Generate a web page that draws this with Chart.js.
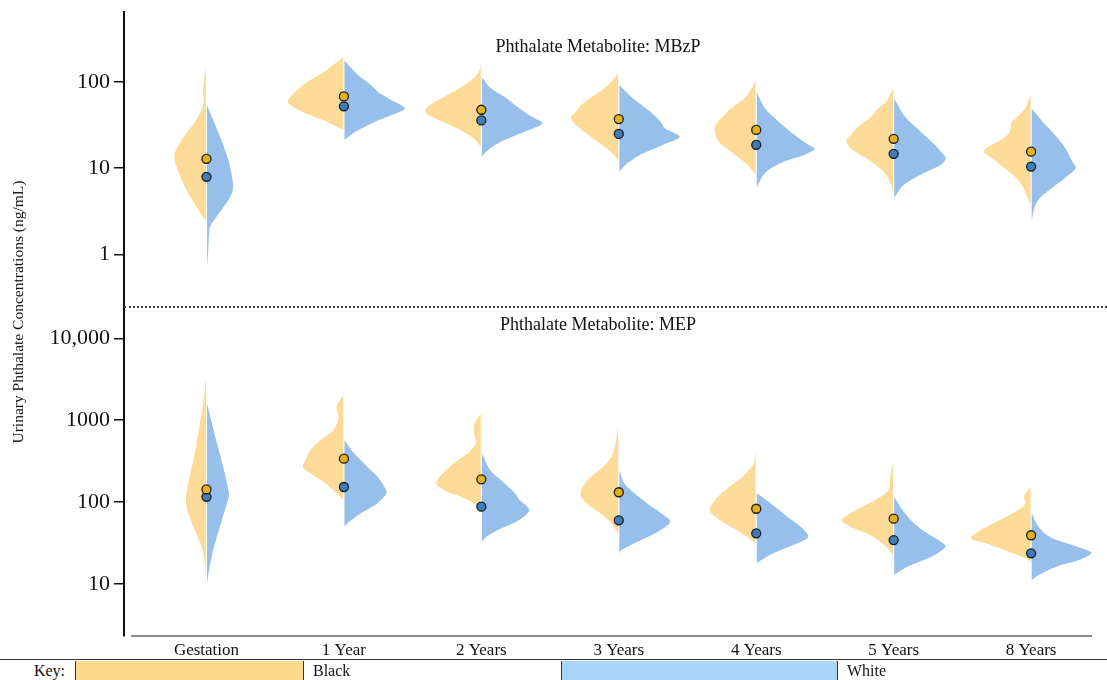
<!DOCTYPE html>
<html>
<head>
<meta charset="utf-8">
<script src="https://cdn.jsdelivr.net/npm/chart.js@4.4.1/dist/chart.umd.min.js"></script>
<style>
  body { margin: 0; background: #fff; }
  #page { position: relative; width: 1107px; height: 680px; overflow: hidden; font-family: "Liberation Serif", serif; color: #111; }
  canvas, .abs { position: absolute; }
  .ptitle { left: 398px; width: 400px; text-align: center; font-size: 18px; line-height: 20px; }
  .key { top: 661px; height: 19px; line-height: 19px; font-size: 16px; }
  .box { border-left: 1px solid #333; border-right: 1px solid #333; }
</style>
</head>
<body>
<div id="page">
  <canvas id="topChart" width="1107" height="312" style="left:0;top:0"></canvas>
  <canvas id="bottomChart" width="1107" height="360" style="left:0;top:300px"></canvas>

  <div class="abs ptitle" style="top:36px">Phthalate Metabolite: MBzP</div>
  <div class="abs ptitle" style="top:314px">Phthalate Metabolite: MEP</div>
  <div class="abs" style="left:-182px;top:302px;width:400px;height:20px;line-height:20px;text-align:center;font-size:15.5px;transform:rotate(-90deg)">Urinary Phthalate Concentrations (ng/mL)</div>

  <div class="abs" style="left:124px;top:306px;width:983px;border-top:2px dotted #444"></div>
  <div class="abs" style="left:131px;top:635px;width:961px;height:2px;background:#8c8c8c"></div>

  <div class="abs" style="left:0;top:659px;width:1107px;height:1px;background:#333"></div>
  <div class="abs key" style="left:0;width:65px;text-align:right">Key:</div>
  <div class="abs key box" style="left:75px;width:227px;background:#fed98b"></div>
  <div class="abs key" style="left:313px">Black</div>
  <div class="abs key box" style="left:561px;width:275px;background:#a9d5fa"></div>
  <div class="abs key" style="left:847px">White</div>
</div>

<script>
const categories = ['Gestation', '1 Year', '2 Years', '3 Years', '4 Years', '5 Years', '8 Years'];

// point estimates (dots)
const mbzpBlackMean = [12.8, 67.7, 47.4, 37, 27.7, 21.8, 15.5];
const mbzpWhiteMean = [7.9, 52, 35.7, 24.9, 18.6, 14.6, 10.4];
const mepBlackMean = [143, 339, 190, 132, 83, 62.7, 39.4];
const mepWhiteMean = [116, 153, 88, 60, 41.6, 34.4, 23.7];

// violin outlines: [concentration, half width in category units]
const mbzpBlackDensity = [
  [[149,0],[84,0.02],[54,0.02],[34.5,0.08],[22,0.17],[14,0.23],[9.1,0.2],[5.9,0.15],[3.8,0.08],[2.4,0]],
  [[194,0],[130,0.14],[100,0.26],[76,0.35],[59,0.405],[49,0.35],[41,0.24],[34.5,0.12],[27.7,0]],
  [[155,0],[119,0.03],[91,0.12],[70,0.245],[54,0.37],[45,0.405],[38,0.34],[29,0.175],[22,0.05],[17.7,0]],
  [[125,0],[84,0.10],[59,0.24],[45,0.31],[38,0.345],[29,0.28],[20.3,0.15],[14.2,0.03],[11.9,0]],
  [[104,0],[70,0.06],[49,0.18],[34.5,0.275],[29,0.30],[20.3,0.27],[15.5,0.18],[10.9,0.06],[8.4,0]],
  [[84,0],[59,0.05],[47,0.12],[39,0.16],[31.6,0.24],[24.2,0.31],[21.2,0.34],[17,0.31],[13,0.195],[9.1,0.07],[6.4,0.015],[4.9,0]],
  [[70,0],[49,0.04],[40,0.09],[34,0.14],[29,0.145],[25,0.16],[21,0.22],[17.5,0.31],[15.5,0.34],[13,0.28],[10,0.19],[7,0.08],[4.9,0.03],[3.8,0]]
];
const mbzpWhiteDensity = [
  [[54,0],[34.5,0.05],[22,0.10],[14,0.145],[9.1,0.175],[5.9,0.19],[4.5,0.165],[3.2,0.1],[2.4,0.045],[2.05,0.02],[1.2,0.01],[0.71,0]],
  [[177,0],[119,0.10],[91,0.195],[76,0.245],[64,0.32],[49,0.44],[41,0.34],[34.5,0.225],[26.4,0.08],[21.2,0]],
  [[114,0],[84,0.065],[67,0.165],[54,0.24],[41,0.345],[33,0.44],[26.4,0.31],[20.3,0.14],[15.5,0.03],[13.6,0]],
  [[91,0],[64,0.10],[45,0.225],[34.5,0.30],[29,0.33],[23,0.44],[18.6,0.32],[14.2,0.15],[10.9,0.045],[9.1,0]],
  [[76,0],[49,0.06],[34.5,0.16],[24.2,0.275],[18.6,0.375],[16.6,0.42],[14.2,0.345],[11.9,0.2],[9.1,0.07],[7.0,0.02],[5.9,0]],
  [[64,0],[41,0.07],[29,0.165],[20.3,0.27],[15.5,0.34],[13,0.375],[10.9,0.34],[8.4,0.195],[6.4,0.07],[4.9,0.015],[4.5,0]],
  [[49,0],[34.5,0.08],[24.2,0.17],[17,0.245],[11.9,0.295],[10,0.32],[7.7,0.245],[5.9,0.15],[4.5,0.06],[3.5,0.02],[2.4,0]]
];
const mepBlackDensity = [
  [[3400,0],[1600,0.02],[630,0.06],[300,0.095],[170,0.13],[97,0.145],[60,0.11],[38,0.06],[24,0.02],[11.2,0]],
  [[2030,0],[1460,0.05],[1100,0.035],[760,0.07],[573,0.165],[433,0.24],[327,0.275],[271,0.295],[225,0.24],[170,0.13],[128,0.05],[106,0]],
  [[1210,0],[916,0.045],[692,0.05],[522,0.035],[394,0.095],[298,0.195],[225,0.275],[170,0.325],[141,0.27],[116,0.145],[97,0.05],[80,0]],
  [[833,0],[522,0.02],[358,0.05],[271,0.11],[204,0.2],[154,0.26],[122,0.275],[97,0.23],[73,0.13],[55,0.05],[41.6,0]],
  [[475,0],[298,0.015],[204,0.095],[154,0.19],[116,0.275],[80,0.335],[60,0.26],[45.6,0.14],[34.4,0.03],[31.4,0]],
  [[311,0],[204,0.02],[141,0.035],[106,0.13],[80,0.27],[60,0.375],[50,0.31],[37.8,0.145],[28.5,0.05],[22.6,0]],
  [[154,0],[116,0.05],[97,0.035],[73,0.13],[55,0.275],[41.6,0.40],[36,0.435],[31.4,0.325],[24.8,0.16],[20.6,0.035],[18.7,0]]
];
const mepWhiteDensity = [
  [[1600,0],[630,0.06],[300,0.11],[170,0.145],[122,0.16],[80,0.13],[46,0.087],[26,0.045],[14.8,0.015],[10.2,0]],
  [[573,0],[394,0.07],[271,0.165],[204,0.24],[154,0.29],[128,0.305],[97,0.24],[73,0.12],[55,0.02],[50,0]],
  [[394,0],[247,0.06],[170,0.165],[128,0.24],[106,0.275],[80,0.345],[60,0.27],[46,0.12],[38,0.035],[33,0]],
  [[247,0],[170,0.035],[128,0.11],[97,0.2],[73,0.305],[58,0.37],[46,0.305],[34.4,0.16],[26,0.015],[23.7,0]],
  [[128,0],[97,0.10],[66,0.225],[50,0.32],[37.8,0.375],[31.4,0.295],[23.7,0.12],[18.7,0.015],[17.9,0]],
  [[116,0],[80,0.06],[55,0.145],[41.6,0.24],[32.8,0.34],[28.5,0.375],[21.5,0.27],[16.3,0.095],[13.5,0.015],[12.9,0]],
  [[73,0],[50,0.05],[37.8,0.13],[31.4,0.255],[26,0.40],[23.7,0.435],[19.6,0.345],[16.3,0.18],[12.9,0.05],[11.2,0]]
];

const mbzpTicks = [1, 10, 100];
const mbzpTickLabels = ['1', '10', '100'];
const mepTicks = [10, 100, 1000, 10000];
const mepTickLabels = ['10', '100', '1000', '10,000'];

const yellowFill = '#fcda98';
const blueFill = '#97bfec';
const yellowDot = '#e2b21e';
const blueDot = '#3d7db9';

Chart.defaults.font.family = '"Liberation Serif", serif';
Chart.defaults.color = '#111';

let violin = (profile, i, side, color) => ({
  type: 'line',
  data: profile.map(p => ({ x: i + side * (p[1] + 0.004), y: p[0] })),
  fill: 'shape',
  backgroundColor: color,
  borderColor: 'rgba(0,0,0,0)',
  borderWidth: 0,
  pointRadius: 0,
  tension: 0.3,
  order: 1
});

let dots = (values, color) => ({
  type: 'scatter',
  data: values.map((v, i) => ({ x: i, y: v })),
  backgroundColor: color,
  borderColor: '#1a1a1a',
  borderWidth: 1.3,
  pointRadius: 4.5,
  order: 0
});

let makePanel = (canvasId, black, white, blackMean, whiteMean, yMin, yMax, ticks, tickLabels, showX, padding) => {
  let datasets = [];
  categories.forEach((c, i) => {
    datasets.push(violin(black[i], i, -1, yellowFill));
    datasets.push(violin(white[i], i, 1, blueFill));
  });
  datasets.push(dots(blackMean, yellowDot));
  datasets.push(dots(whiteMean, blueDot));

  return new Chart(document.getElementById(canvasId), {
    type: 'scatter',
    data: { datasets: datasets },
    options: {
      responsive: false,
      animation: false,
      layout: { padding: padding },
      plugins: { legend: { display: false }, tooltip: { enabled: false } },
      scales: {
        x: {
          type: 'linear',
          min: -0.6,
          max: 6.51,
          display: showX,
          grid: { display: false, drawTicks: false },
          border: { display: false },
          ticks: { padding: 4, font: { size: 17 }, maxRotation: 0, callback: v => categories[v] },
          afterBuildTicks: s => { s.ticks = categories.map((c, i) => ({ value: i })); },
          afterFit: s => {
            s.height = showX ? 24 : 0;
            s.paddingLeft = 0;
            s.paddingRight = 0;
          }
        },
        y: {
          type: 'logarithmic',
          min: yMin,
          max: yMax,
          grid: { drawOnChartArea: false, drawTicks: true, tickLength: 10, color: '#111', lineWidth: 1.5 },
          border: { display: true, color: '#111', width: 2 },
          ticks: {
            padding: 4,
            font: { size: 22 },
            callback: v => tickLabels[ticks.indexOf(v)]
          },
          afterBuildTicks: s => { s.ticks = ticks.map(v => ({ value: v })); },
          afterFit: s => {
            s.width = 124;
            s.paddingTop = 0;
            s.paddingBottom = 0;
          }
        }
      }
    }
  });
};

makePanel('topChart', mbzpBlackDensity, mbzpWhiteDensity, mbzpBlackMean, mbzpWhiteMean,
  0.25, 645, mbzpTicks, mbzpTickLabels, false, { top: 12, bottom: 5, left: 0, right: 0 });
makePanel('bottomChart', mepBlackDensity, mepWhiteDensity, mepBlackMean, mepWhiteMean,
  2.32, 24100, mepTicks, mepTickLabels, true, { top: 7, bottom: 0, left: 0, right: 0 });
</script>
</body>
</html>
